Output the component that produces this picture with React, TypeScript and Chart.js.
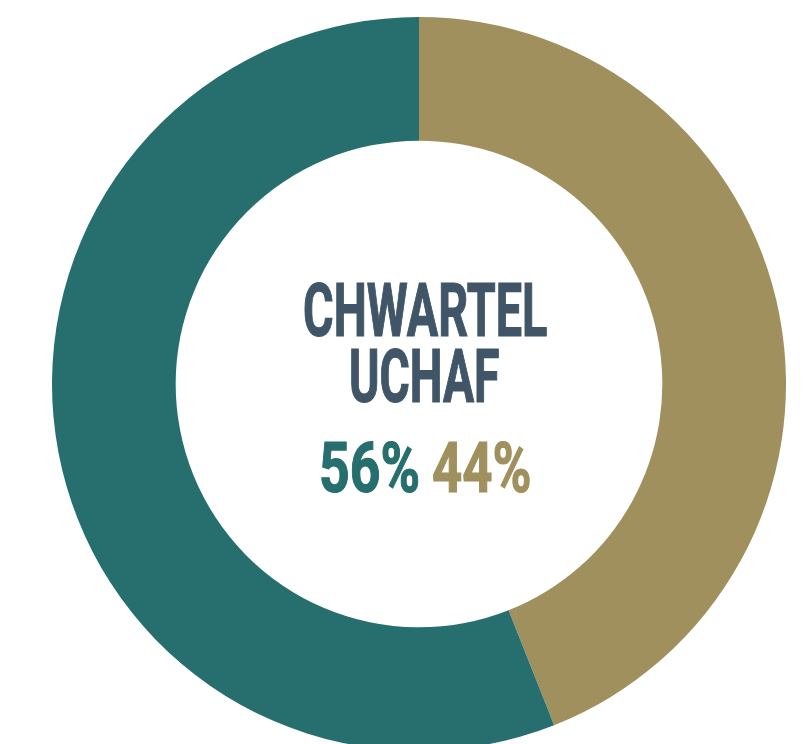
import React, { useEffect, useRef, useMemo } from "react";
import { Chart, registerables } from "chart.js";

Chart.register(...registerables);

const categories = ["Gold", "Teal"];
const values = [44, 56];
const colors = ["#A0905E", "#276E6E"];
const titleLines = ["CHWARTEL", "UCHAF"];
const percentLabels = ["56%", "44%"];
const TEXT_COLOR = "#405668";
const FONT = "Roboto";

type LabelProps = { text: string; left: number; right: number; base: number; cap: number; color: string };

function Label({ text, left, right, base, cap, color }: LabelProps) {
  const m = useMemo(() => {
    const c = document.createElement("canvas");
    const ctx = c.getContext("2d")!;
    ctx.font = `700 100px ${FONT}`;
    const h = ctx.measureText("H");
    const fontSize = (cap / h.actualBoundingBoxAscent) * 100;
    ctx.font = `700 ${fontSize}px ${FONT}`;
    const t = ctx.measureText(text);
    const ink = t.actualBoundingBoxLeft + t.actualBoundingBoxRight;
    const scale = (right - left) / ink;
    return { fontSize, scale, abl: t.actualBoundingBoxLeft, asc: t.fontBoundingBoxAscent };
  }, [text, left, right, base, cap]);
  return (
    <span
      style={{
        position: "absolute",
        left: left + m.abl * m.scale,
        top: base - m.asc,
        fontFamily: FONT,
        fontWeight: 700,
        fontSize: m.fontSize,
        lineHeight: "normal",
        whiteSpace: "nowrap",
        color,
        transform: `scaleX(${m.scale})`,
        transformOrigin: "0 0",
        WebkitTextStroke: `1.2px ${color}`,
      }}
    >
      {text}
    </span>
  );
}

export default function App() {
  const ref = useRef<HTMLCanvasElement>(null);
  useEffect(() => {
    const chart = new Chart(ref.current!, {
      type: "doughnut",
      data: {
        labels: categories,
        datasets: [{ data: values, backgroundColor: colors, borderWidth: 0 }],
      },
      options: {
        responsive: false,
        animation: false,
        events: [],
        cutout: "66.3%",
        rotation: 0,
        layout: { padding: 0 },
        plugins: { legend: { display: false }, tooltip: { enabled: false } },
      },
    });
    return () => chart.destroy();
  }, []);
  return (
    <div style={{ position: "fixed", inset: 0, overflow: "hidden", background: "#fff" }}>
      <canvas ref={ref} width={734} height={734} style={{ position: "absolute", left: 52, top: 17, width: 734, height: 734 }} />
      <Label text={titleLines[0]} left={305} right={547} base={336} cap={53} color={TEXT_COLOR} />
      <Label text={titleLines[1]} left={352} right={499} base={402} cap={53} color={TEXT_COLOR} />
      <Label text={percentLabels[0]} left={321} right={418} base={492} cap={51} color={colors[1]} />
      <Label text={percentLabels[1]} left={433} right={530} base={492} cap={51} color={colors[0]} />
    </div>
  );
}
